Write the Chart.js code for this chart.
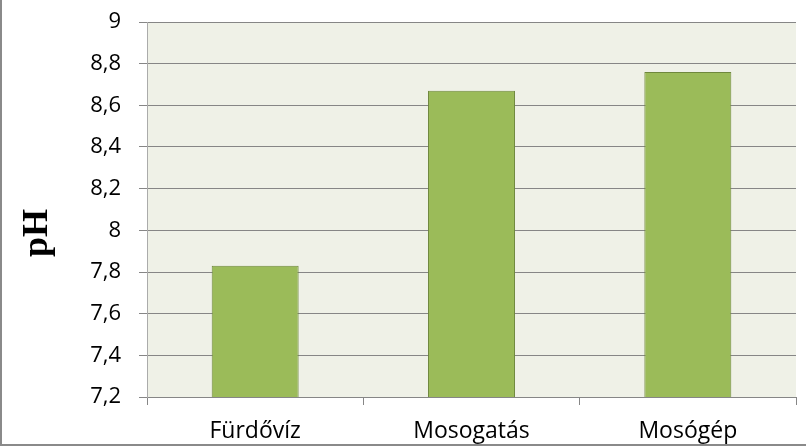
<!DOCTYPE html>
<html>
<head>
<meta charset="utf-8">
<script src="https://cdn.jsdelivr.net/npm/chart.js@4"></script>
<style>
html,body{margin:0;padding:0;background:#fff;}
#c{display:block;}
</style>
</head>
<body>
<canvas id="c" width="806" height="446"></canvas>
<script>
const categories = ['Fürdővíz', 'Mosogatás', 'Mosógép'];
const phValues = [7.83, 8.67, 8.76];
const yTickLabels = ['7,2', '7,4', '7,6', '7,8', '8', '8,2', '8,4', '8,6', '8,8', '9'];
const yAxisTitle = 'pH';

const chromePlugin = {
  id: 'chrome',
  beforeDraw(chart) {
    const {ctx, chartArea: a} = chart;
    ctx.save();
    ctx.fillStyle = '#eff1e7';
    ctx.fillRect(a.left, a.top, a.right - a.left, a.bottom - a.top);
    ctx.restore();
  },
  afterDraw(chart) {
    const {ctx} = chart;
    ctx.save();
    ctx.fillStyle = '#8a8a8a';
    ctx.fillRect(0, 0, 2, chart.height);
    ctx.fillRect(0, chart.height - 2, chart.width, 2);
    ctx.translate(38, 233);
    ctx.rotate(-Math.PI / 2);
    ctx.fillStyle = '#000';
    ctx.font = 'bold 36px "Liberation Serif", "Times New Roman", serif';
    ctx.textAlign = 'center';
    ctx.textBaseline = 'middle';
    ctx.fillText(yAxisTitle, 0, 0);
    ctx.restore();
  }
};

new Chart(document.getElementById('c'), {
  type: 'bar',
  data: {
    labels: categories,
    datasets: [{
      data: phValues,
      backgroundColor: '#9bbb59',
      borderColor: '#6f883d',
      borderWidth: 1,
      borderSkipped: false,
      barPercentage: 0.402,
      categoryPercentage: 1
    }]
  },
  options: {
    responsive: false,
    devicePixelRatio: 1,
    animation: false,
    layout: {padding: {left: 0, right: 10, top: 22, bottom: 0}},
    plugins: {legend: {display: false}, tooltip: {enabled: false}},
    scales: {
      x: {
        grid: {display: true, drawOnChartArea: false, drawTicks: true, tickLength: 8, color: '#868686', offset: true},
        border: {display: false},
        ticks: {color: '#000', font: {family: '"Open Sans", sans-serif', size: 23}, padding: 13},
        afterFit(s) { s.height = 49; s.paddingLeft = 0; s.paddingRight = 0; }
      },
      y: {
        min: 7.2,
        max: 9,
        grid: {color: '#868686', tickLength: 8, drawTicks: true},
        border: {display: true, color: '#ababab'},
        ticks: {
          stepSize: 0.2,
          color: '#000',
          padding: 18,
          font: {family: '"Open Sans", sans-serif', size: 22},
          callback: (v, i) => yTickLabels[i]
        },
        afterFit(s) { s.width = 147; s.paddingTop = 0; s.paddingBottom = 0; }
      }
    }
  },
  plugins: [chromePlugin]
});
</script>
</body>
</html>
